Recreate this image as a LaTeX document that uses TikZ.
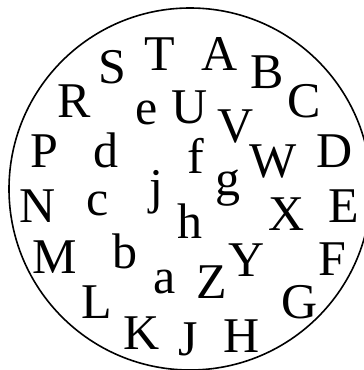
\documentclass[tikz,border=0pt]{standalone}
\usepackage{fontspec}
\setmainfont{Liberation Serif}
\begin{document}
\begin{tikzpicture}[x=1pt,y=-1pt,
  lt/.style={inner sep=0pt,anchor=base,font=\fontsize{50}{54}\selectfont}]
\useasboundingbox (0,0) rectangle (364,370);
\clip (0,0) rectangle (364,370);
\draw[line width=1.6pt] (190,189) circle[radius=181];
\node[lt] (S) at (112,83) {S};
\node[lt] (T) at (160,70) {T};
\node[lt] (A) at (220,70) {A};
\node[lt] (B) at (267,88) {B};
\node[lt] (C) at (304,117) {C};
\node[lt] (R) at (74,117) {R};
\node[lt] (e) at (147,124) {e};
\node[lt] (U) at (190,123) {U};
\node[lt] (V) at (236,142) {V};
\node[lt] (P) at (44,167) {P};
\node[lt] (d) at (106,167) {d};
\node[lt] (f) at (196,173) {f};
\node[lt] (W) at (273,177) {W};
\node[lt] (D) at (335,167) {D};
\node[lt] (j) at (156,203) {j};
\node[lt] (g) at (228,195) {g};
\node[lt] (N) at (38,222) {N};
\node[lt] (c) at (98,215) {c};
\node[lt] (h) at (190,238) {h};
\node[lt] (X) at (287,230) {X};
\node[lt] (E) at (344,222) {E};
\node[lt] (M) at (55,273) {M};
\node[lt] (b) at (125,268) {b};
\node[lt] (Y) at (247,276) {Y};
\node[lt] (F) at (332,275) {F};
\node[lt] (a) at (165,293) {a};
\node[lt] (Z) at (212,298) {Z};
\node[lt] (L) at (97,318) {L};
\node[lt] (G) at (300,318) {G};
\node[lt] (K) at (142,349) {K};
\node[lt] (J) at (188,355) {J};
\node[lt] (H) at (242,352) {H};
\end{tikzpicture}
\end{document}
